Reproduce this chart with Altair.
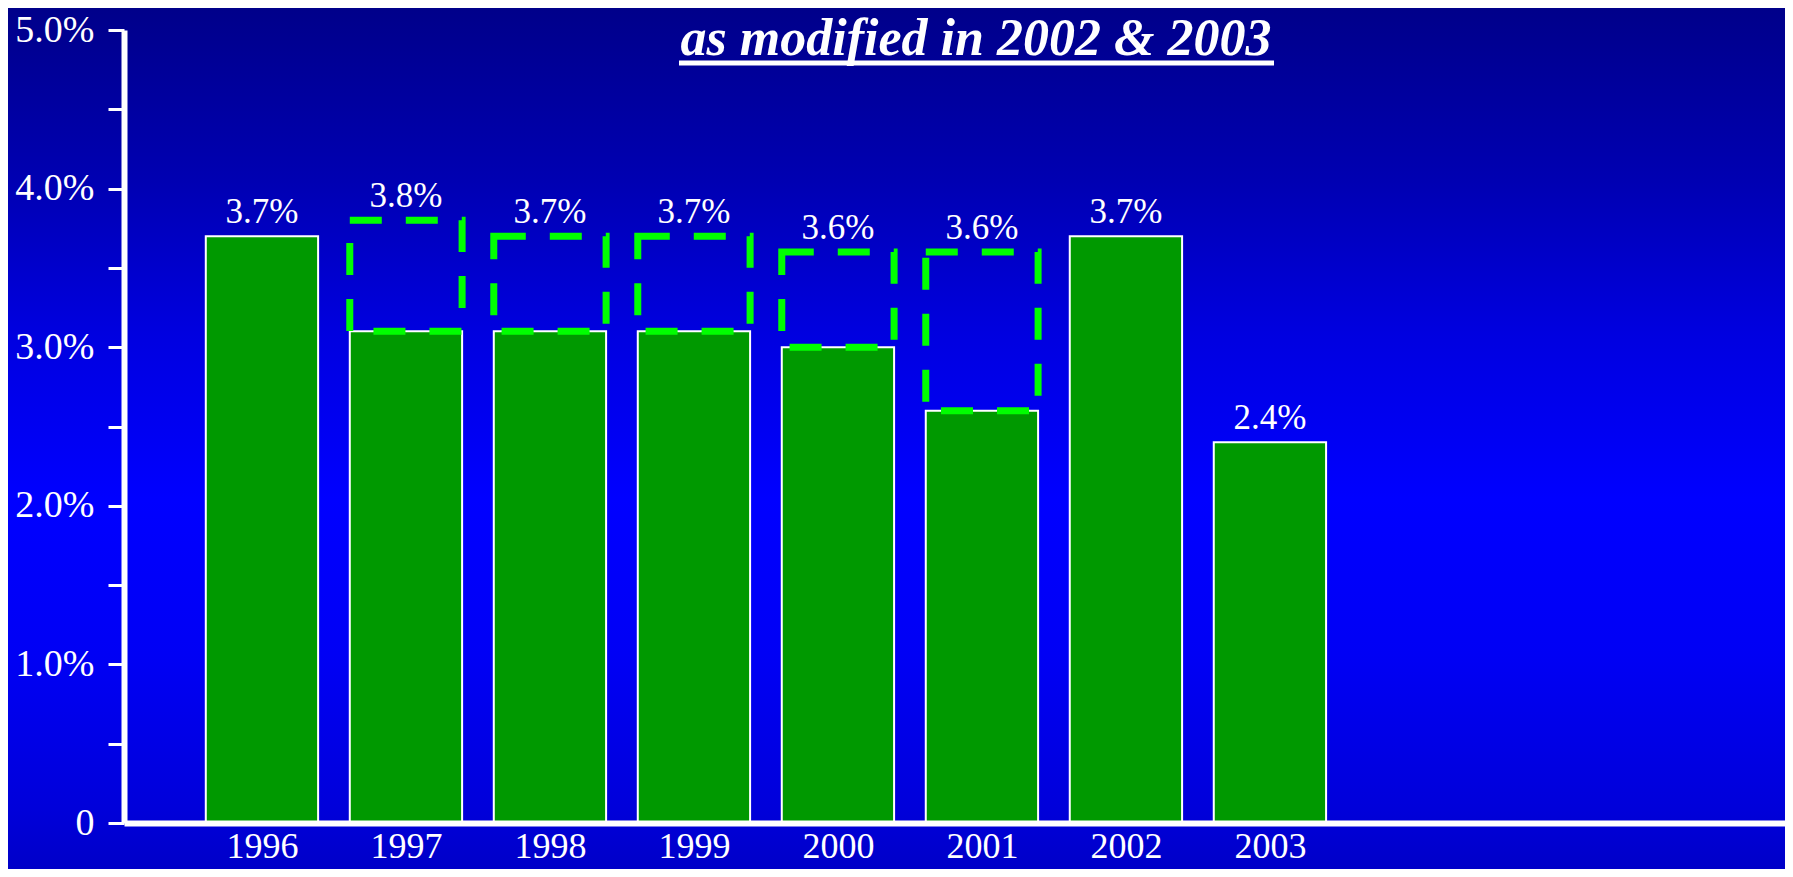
import altair as alt
import pandas as pd

# ---- data ----
years = [1996, 1997, 1998, 1999, 2000, 2001, 2002, 2003]
modified = [3.7, 3.1, 3.1, 3.1, 3.0, 2.6, 3.7, 2.4]
original = [None, 3.8, 3.7, 3.7, 3.6, 3.6, None, None]
y_tick_values = [0, 0.5, 1.0, 1.5, 2.0, 2.5, 3.0, 3.5, 4.0, 4.5, 5.0]
title_text = ["as modified in 2002 & 2003"]

df = pd.DataFrame({"year": years, "modified": modified, "original": original})

# ---- layout ----
W, H = 1661, 793
PAD = {"left": 116, "top": 22, "right": 0, "bottom": 46}
FONT = "Liberation Serif"

xs = alt.Scale(domain=[1995.042, 2006.577], nice=False, zero=False)
ys = alt.Scale(domain=[0, 5], nice=False)

x_axis = alt.Axis(
    title=None, values=years, format="d", grid=False, ticks=False, tickSize=0,
    domainColor="white", domainWidth=6, labelColor="white", labelFont=FONT,
    labelFontSize=36, labelPadding=6, labelOverlap=False, zindex=1,
)
y_axis = alt.Axis(
    title=None, values=y_tick_values, grid=False, ticks=True, tickSize=16,
    tickWidth=3, tickColor="white", domainColor="white", domainWidth=6,
    labelColor="white", labelFont=FONT, labelFontSize=38, labelPadding=14,
    labelOverlap=False, labelBaseline="middle", zindex=1,
    labelExpr="datum.value == 0 ? '0' : (datum.value % 1 == 0 ? format(datum.value, '.1f') + '%' : '')",
)

gradient = alt.LinearGradient(
    gradient="linear", x1=0, y1=0, x2=0, y2=1,
    stops=[
        alt.GradientStop(offset=0.0, color="#00008A"),
        alt.GradientStop(offset=0.2, color="#0000B2"),
        alt.GradientStop(offset=0.38, color="#0000E0"),
        alt.GradientStop(offset=0.57, color="#0000FF"),
        alt.GradientStop(offset=0.75, color="#0000F5"),
        alt.GradientStop(offset=0.93, color="#0000DA"),
        alt.GradientStop(offset=1.0, color="#0000C8"),
    ],
)

bg = alt.Chart(pd.DataFrame({"a": [0]})).mark_rect(fill=gradient).encode(
    x=alt.value(-PAD["left"]), x2=alt.value(W + PAD["right"]),
    y=alt.value(-PAD["top"]), y2=alt.value(H + PAD["bottom"]),
)

base = alt.Chart(df).transform_calculate(
    x_lo="datum.year - 0.39"
).transform_calculate(
    x_hi="datum.year + 0.39"
)

bars = base.mark_rect(fill="#009900", stroke="white", strokeWidth=2).encode(
    x=alt.X("x_lo:Q", scale=xs, axis=x_axis),
    x2="x_hi:Q",
    y=alt.Y("modified:Q", scale=ys, axis=y_axis),
    y2=alt.datum(0),
)

dashed = base.transform_filter("datum.original != null").mark_rect(
    filled=False, color="#00FF00", stroke="#00FF00", strokeWidth=7,
    strokeDash=[32, 24],
).encode(
    x=alt.X("x_lo:Q", scale=xs),
    x2="x_hi:Q",
    y=alt.Y("original:Q", scale=ys),
    y2="modified:Q",
)

labels = alt.Chart(df).transform_calculate(
    top="datum.original != null ? datum.original : datum.modified"
).transform_calculate(
    lab="format(datum.top, '.1f') + '%'"
).mark_text(
    font=FONT, fontSize=35, color="white", align="center",
    baseline="alphabetic", dy=-13,
).encode(
    x=alt.X("year:Q", scale=xs),
    y=alt.Y("top:Q", scale=ys),
    text="lab:N",
)

title = alt.Chart(pd.DataFrame({"t": title_text})).mark_text(
    font=FONT, fontSize=52, fontWeight="bold", fontStyle="italic",
    color="white", align="center", baseline="alphabetic",
).encode(x=alt.value(852), y=alt.value(25), text="t:N")

underline = alt.Chart(pd.DataFrame({"t": title_text})).mark_rule(
    color="white", strokeWidth=5
).encode(x=alt.value(555), x2=alt.value(1150), y=alt.value(33))

chart = alt.layer(bg, bars, dashed, labels, title, underline).properties(
    width=W, height=H, padding=PAD,
    autosize=alt.AutoSizeParams(type="none"),
    background="#0000D0",
).configure_view(stroke=None)

chart.save("out.html", embed_options={"renderer": "svg", "actions": False})
